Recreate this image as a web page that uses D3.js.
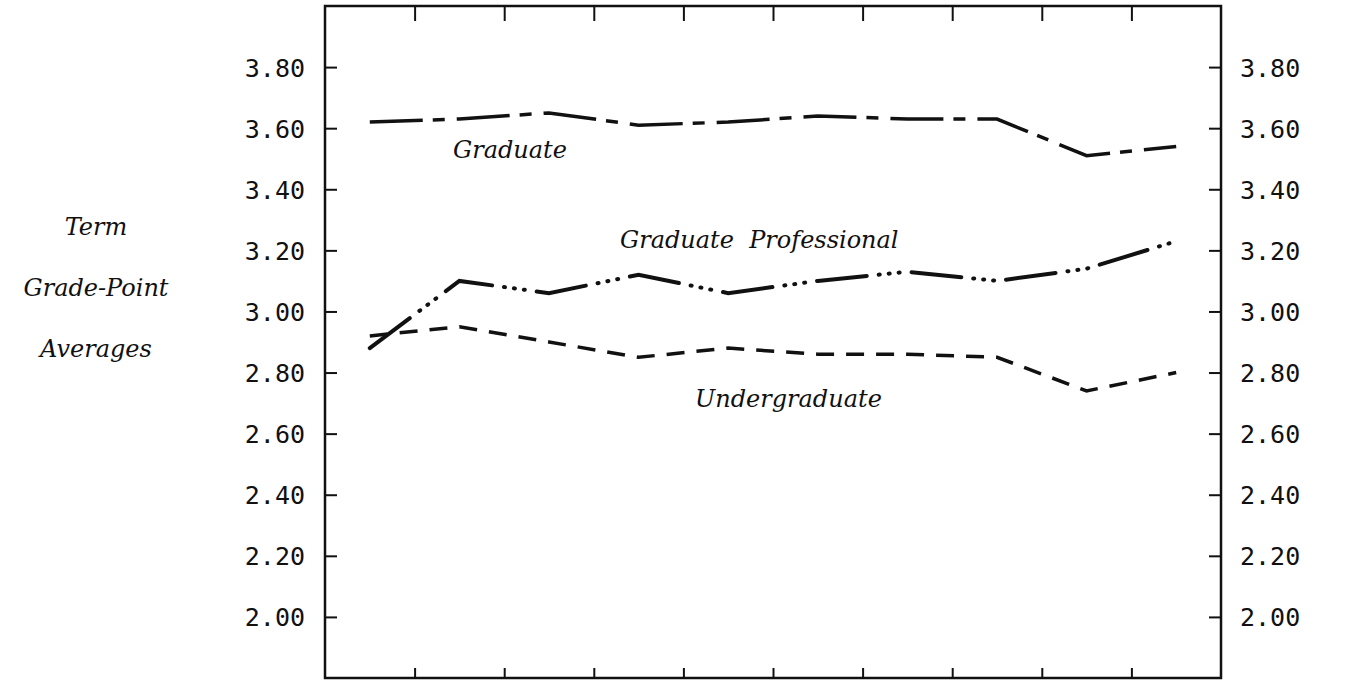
<!DOCTYPE html>
<html>
<head>
<meta charset="utf-8">
<script src="https://d3js.org/d3.v7.min.js"></script>
<style>
  body { margin: 0; background: #fff; }
  .tick-label { font-family: "DejaVu Sans Mono", monospace; font-size: 25px; fill: #111; }
  .series-label, .axis-title { font-family: "DejaVu Serif", serif; font-style: italic; font-size: 24px; fill: #111; }
</style>
</head>
<body>
<div id="chart"></div>
<script>
// Terms along the x axis (not labelled in the original)
const terms = ['Term 1', 'Term 2', 'Term 3', 'Term 4', 'Term 5', 'Term 6', 'Term 7', 'Term 8', 'Term 9', 'Term 10'];

// Term grade-point averages
const graduate = [3.62, 3.63, 3.65, 3.61, 3.62, 3.64, 3.63, 3.63, 3.51, 3.54];
const gradProfessional = [2.88, 3.10, 3.06, 3.12, 3.06, 3.10, 3.13, 3.10, 3.14, 3.23];
const undergraduate = [2.92, 2.95, 2.90, 2.85, 2.88, 2.86, 2.86, 2.85, 2.74, 2.80];

// Y tick values and axis title lines
const yTicks = [2.0, 2.2, 2.4, 2.6, 2.8, 3.0, 3.2, 3.4, 3.6, 3.8];
const yDomain = [1.8, 4.0];
const titleLines = ['Term', 'Grade-Point', 'Averages'];

class GpaChart {
  constructor(_config) {
    this.config = {
      parentElement: _config.parentElement,
      containerWidth: _config.containerWidth || 1349,
      containerHeight: _config.containerHeight || 682,
      margin: _config.margin || { top: 6, right: 128, bottom: 4, left: 325 }
    };
    this.initVis();
  }

  initVis() {
    let vis = this;

    vis.width = vis.config.containerWidth - vis.config.margin.left - vis.config.margin.right;
    vis.height = vis.config.containerHeight - vis.config.margin.top - vis.config.margin.bottom;

    vis.svg = d3.select(vis.config.parentElement)
      .append('svg')
      .attr('width', vis.config.containerWidth)
      .attr('height', vis.config.containerHeight);

    vis.g = vis.svg.append('g')
      .attr('transform', `translate(${vis.config.margin.left},${vis.config.margin.top})`);

    // One band per term, points sit at band centres, ticks at band edges
    vis.xScale = d3.scaleBand().domain(terms).range([0, vis.width]);
    vis.xEdge = d3.scaleLinear().domain([0, terms.length]).range([0, vis.width]);
    vis.yScale = d3.scaleLinear().domain(yDomain).range([vis.height, 0]);

    // Frame
    vis.g.append('rect')
      .attr('width', vis.width)
      .attr('height', vis.height)
      .attr('fill', 'none')
      .attr('stroke', '#111')
      .attr('stroke-width', 2.5);

    // Y axes on both sides, ticks pointing inward
    const fmt = d3.format('.2f');
    const yLeft = d3.axisLeft(vis.yScale).tickValues(yTicks).tickFormat(fmt).tickSize(-12).tickPadding(20);
    const yRight = d3.axisRight(vis.yScale).tickValues(yTicks).tickFormat(fmt).tickSize(-12).tickPadding(19);

    vis.g.append('g').attr('class', 'y-left').call(yLeft);
    vis.g.append('g').attr('class', 'y-right')
      .attr('transform', `translate(${vis.width},0)`)
      .call(yRight);

    // X ticks only, top and bottom
    const edges = d3.range(1, terms.length);
    const xTop = d3.axisTop(vis.xEdge).tickValues(edges).tickFormat('').tickSize(-15);
    const xBottom = d3.axisBottom(vis.xEdge).tickValues(edges).tickFormat('').tickSize(-10);
    vis.g.append('g').attr('class', 'x-top').call(xTop);
    vis.g.append('g').attr('class', 'x-bottom')
      .attr('transform', `translate(0,${vis.height})`)
      .call(xBottom);

    vis.g.selectAll('.domain').remove();
    vis.g.selectAll('.tick line').attr('stroke', '#111').attr('stroke-width', 2);
    vis.g.selectAll('.tick text').attr('class', 'tick-label').attr('dy', '0.36em').attr('fill', null);

    // Lines
    vis.line = d3.line()
      .x((d, i) => vis.xScale(terms[i]) + vis.xScale.bandwidth() / 2)
      .y(d => vis.yScale(d));

    const series = [
      { key: 'graduate', values: graduate, dash: '53 10 12 12', cap: 'butt', width: 3.5, offset: 0 },
      { key: 'undergraduate', values: undergraduate, dash: '18 12', cap: 'butt', width: 3.5, offset: 0 },
      { key: 'grad-prof', values: gradProfessional, dash: '50 12 1 9 1 9 1 12', cap: 'round', width: 4, offset: 0 }
    ];

    vis.g.selectAll('.series')
      .data(series)
      .join('path')
      .attr('class', d => `series ${d.key}`)
      .attr('d', d => vis.line(d.values))
      .attr('fill', 'none')
      .attr('stroke', '#111')
      .attr('stroke-width', d => d.width)
      .attr('stroke-linecap', d => d.cap)
      .attr('stroke-dasharray', d => d.dash)
      .attr('stroke-dashoffset', d => d.offset);

    // Series labels
    const labels = [
      { text: 'Graduate', x: 453, y: 158 },
      { text: 'Graduate\u00a0\u00a0Professional', x: 620, y: 248 },
      { text: 'Undergraduate', x: 695, y: 407 }
    ];
    vis.svg.selectAll('.series-label')
      .data(labels)
      .join('text')
      .attr('class', 'series-label')
      .attr('x', d => d.x)
      .attr('y', d => d.y)
      .text(d => d.text);

    // Y axis title, three centred lines
    vis.svg.selectAll('.axis-title')
      .data(titleLines)
      .join('text')
      .attr('class', 'axis-title')
      .attr('text-anchor', 'middle')
      .attr('x', 96)
      .attr('y', (d, i) => 235 + i * 61)
      .text(d => d);
  }
}

const chart = new GpaChart({ parentElement: '#chart' });
</script>
</body>
</html>
